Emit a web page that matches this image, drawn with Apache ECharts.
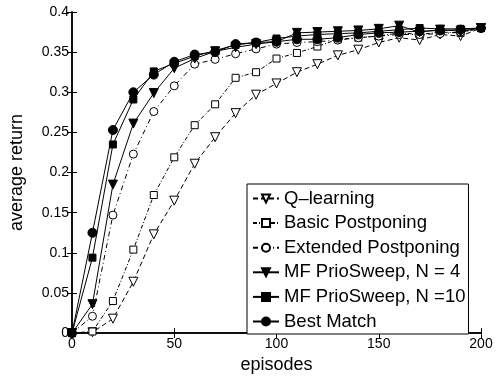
<!DOCTYPE html>
<html>
<head>
<meta charset="utf-8">
<script src="https://cdn.jsdelivr.net/npm/echarts@6/dist/echarts.min.js"></script>
<style>
  html, body { margin: 0; padding: 0; background: #fff; }
  #main { width: 499px; height: 379px; }
</style>
</head>
<body>
<div id="main"></div>
<script>
var episodes = [0, 10, 20, 30, 40, 50, 60, 70, 80, 90, 100, 110, 120, 130, 140, 150, 160, 170, 180, 190, 200];

var qLearning = [0, 0.001, 0.018, 0.064, 0.123, 0.165, 0.211, 0.244, 0.274, 0.297, 0.311, 0.325, 0.335, 0.346, 0.353, 0.362, 0.368, 0.365, 0.372, 0.370, 0.380];
var basicPost = [0, 0.002, 0.040, 0.104, 0.172, 0.219, 0.259, 0.285, 0.318, 0.325, 0.342, 0.349, 0.357, 0.366, 0.368, 0.370, 0.374, 0.372, 0.375, 0.374, 0.380];
var extPost = [0, 0.021, 0.147, 0.223, 0.276, 0.308, 0.335, 0.341, 0.348, 0.354, 0.360, 0.362, 0.363, 0.365, 0.368, 0.370, 0.372, 0.372, 0.373, 0.375, 0.380];
var mfN4 = [0, 0.036, 0.185, 0.261, 0.299, 0.330, 0.342, 0.351, 0.356, 0.360, 0.363, 0.374, 0.375, 0.376, 0.377, 0.379, 0.383, 0.375, 0.378, 0.376, 0.380];
var mfN10 = [0, 0.094, 0.235, 0.291, 0.326, 0.336, 0.345, 0.352, 0.359, 0.362, 0.367, 0.370, 0.372, 0.373, 0.374, 0.376, 0.378, 0.380, 0.379, 0.379, 0.380];
var bestMatch = [0, 0.125, 0.253, 0.300, 0.322, 0.338, 0.347, 0.350, 0.360, 0.362, 0.363, 0.366, 0.366, 0.368, 0.372, 0.374, 0.375, 0.376, 0.377, 0.378, 0.380];

var names = ['Q\u2013learning', 'Basic Postponing', 'Extended Postponing', 'MF PrioSweep, N = 4', 'MF PrioSweep, N =10', 'Best Match'];

function pairs(vals) {
    return episodes.map(function (e, i) { return [e, vals[i]]; });
}

var font = 'Liberation Sans, Arial, Helvetica, sans-serif';
var chart = echarts.init(document.getElementById('main'));

function line(name, vals, symbol, size, filled, dash, rot) {
    return {
        name: name,
        type: 'line',
        data: pairs(vals),
        symbol: symbol,
        symbolSize: size,
        symbolRotate: rot || 0,
        showAllSymbol: true,
        animation: false,
        lineStyle: { color: '#000', width: 1, type: dash },
        itemStyle: { color: filled ? '#000' : '#fff', borderColor: '#000', borderWidth: 1 }
    };
}

var option = {
    backgroundColor: '#fff',
    textStyle: { fontFamily: font },
    grid: { left: 65, right: 18, top: 12, bottom: 39 },
    legend: {
        left: 247,
        top: 184,
        orient: 'vertical',
        data: names,
        backgroundColor: '#fff',
        borderColor: '#000',
        borderWidth: 1,
        padding: [5, 3, 3, 5],
        itemWidth: 26,
        itemHeight: 10,
        itemGap: 5.6,
        textStyle: { fontFamily: font, fontSize: 18.5, color: '#000', lineHeight: 18.2 }
    },
    xAxis: [{
        type: 'value',
        min: 0, max: 200, interval: 50,
        name: 'episodes',
        nameLocation: 'middle',
        nameGap: 18,
        nameTextStyle: { fontFamily: font, fontSize: 18, color: '#000' },
        axisLine: { lineStyle: { color: '#000', width: 1.5 } },
        axisTick: { inside: true, length: 5, lineStyle: { color: '#000' } },
        axisLabel: { fontFamily: font, fontSize: 14, color: '#000', margin: 4 },
        splitLine: { show: false }
    }, {
        type: 'value',
        position: 'top',
        min: 0, max: 200, interval: 50,
        axisLine: { lineStyle: { color: '#000', width: 1.5 } },
        axisTick: { inside: true, length: 5, lineStyle: { color: '#000' } },
        axisLabel: { show: false },
        splitLine: { show: false }
    }],
    yAxis: [{
        type: 'value',
        min: 0, max: 0.4, interval: 0.05,
        name: 'average return',
        nameLocation: 'middle',
        nameGap: 46,
        nameTextStyle: { fontFamily: font, fontSize: 18, color: '#000' },
        axisLine: { show: true, lineStyle: { color: '#000', width: 1.5 } },
        axisTick: { show: true, inside: true, length: 5, lineStyle: { color: '#000' } },
        axisLabel: { fontFamily: font, fontSize: 14, color: '#000', margin: 3 },
        splitLine: { show: false }
    }, {
        type: 'value',
        position: 'right',
        min: 0, max: 0.4, interval: 0.05,
        axisLine: { show: true, lineStyle: { color: '#000', width: 1.5 } },
        axisTick: { show: true, inside: true, length: 5, lineStyle: { color: '#000' } },
        axisLabel: { show: false },
        splitLine: { show: false }
    }],
    series: [
        line(names[0], qLearning, 'triangle', 9, false, [5, 3], 180),
        line(names[1], basicPost, 'rect', 7, false, [4, 2, 1, 2]),
        line(names[2], extPost, 'circle', 8, false, [5, 3, 1, 3]),
        line(names[3], mfN4, 'triangle', 9, true, 'solid', 180),
        line(names[4], mfN10, 'rect', 7, true, 'solid'),
        line(names[5], bestMatch, 'circle', 9, true, 'solid')
    ]
};

chart.setOption(option);
</script>
</body>
</html>
